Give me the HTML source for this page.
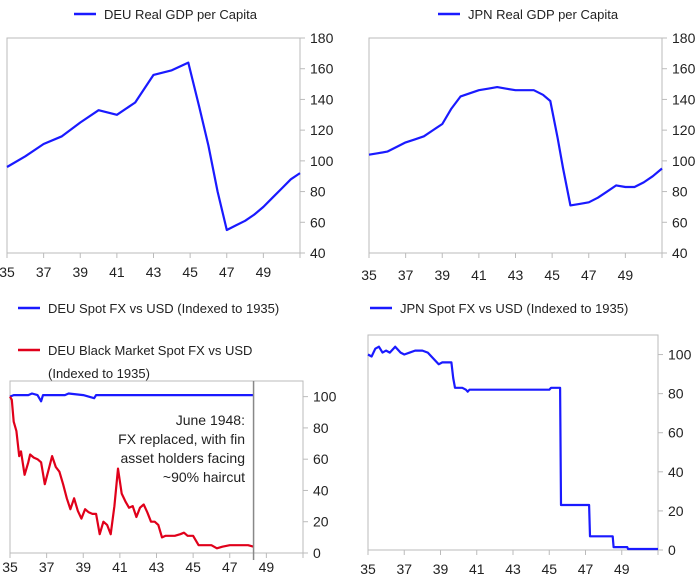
<!DOCTYPE html>
<html><head><meta charset="utf-8"><style>
body{margin:0;background:#fff;font-family:"Liberation Sans",sans-serif;}
svg text{font-family:"Liberation Sans",sans-serif;fill:#222;}
</style></head><body>
<svg id="s" width="700" height="582" xmlns="http://www.w3.org/2000/svg"></svg>
<script>
const deuGdpYears=[35,36,37,38,39,40,41,42,43,44,44.9,45.5,46,46.5,47,47.5,48,48.5,49,49.5,50,50.5,51];
const deuGdp=[96,103,111,116,125,133,130,138,156,159,164,135,110,80,55,58,61,65,70,76,82,88,92];
const jpnGdpYears=[35,35.5,36,36.5,37,37.5,38,38.5,39,39.5,40,40.5,41,41.5,42,42.5,43,43.5,44,44.5,44.9,45.3,45.6,46,46.5,47,47.5,48,48.5,49,49.5,50,50.5,51];
const jpnGdp=[104,105,106,109,112,114,116,120,124,134,142,144,146,147,148,147,146,146,146,143,139,115,95,71,72,73,76,80,84,83,83,86,90,95];
const deuFxYears=[35,35.2,35.5,36,36.2,36.5,36.7,36.8,37,38,38.2,39,39.6,39.7,40,48.3];
const deuFx=[100,101,101,101,102,101,97,101,101,101,102,101,99,101,101,101];
const deuBmYears=[35,35.1,35.2,35.35,35.5,35.6,35.8,36,36.1,36.3,36.5,36.7,36.9,37.1,37.3,37.5,37.7,37.9,38.1,38.3,38.5,38.7,38.9,39.1,39.3,39.5,39.7,39.9,40.1,40.3,40.5,40.7,40.9,41.1,41.3,41.5,41.7,41.9,42.1,42.3,42.5,42.7,42.9,43.1,43.3,43.5,43.7,44,44.3,44.5,44.7,45,45.3,45.6,46,46.3,46.6,47,47.3,47.6,48,48.3];
const deuBm=[100,98,84,78,62,65,50,58,63,61,60,58,44,53,62,55,52,44,35,28,35,27,22,28,26,25,25,12,20,18,12,30,54,38,33,29,30,23,29,31,26,20,20,18,10,11,11,11,12,13,11,11,5,5,5,3,4,5,5,5,5,4];
const jpnFxYears=[35,35.2,35.4,35.6,35.8,36,36.2,36.5,36.8,37,37.3,37.6,38,38.3,38.6,38.9,39.1,39.6,39.7,39.8,40,40.2,40.4,40.5,40.6,45,45.1,45.6,45.65,47.2,47.25,48.5,48.55,49.3,49.35,51];
const jpnFx=[100,99,103,104,101,102,101,104,101,100,101,102,102,101,98,95,96,96,88,83,83,83,82,81,82,82,83,83,23,23,7,7,1.5,1.5,0.5,0.5];

const svg=document.getElementById('s');
const NS='http://www.w3.org/2000/svg';
function el(t,a,p){const e=document.createElementNS(NS,t);for(const k in a)e.setAttribute(k,a[k]);(p||svg).appendChild(e);return e;}

function chart(name,x0,x1,y0,y1,ymin,ymax,yticks,xlabY,series){
  const g=el('g',{});
  
  
  const sx=v=>x0+(v-35)/(51-35)*(x1-x0);
  const sy=v=>y1-(v-ymin)/(ymax-ymin)*(y1-y0);
  const box=el('rect',{x:x0,y:y0,width:x1-x0,height:y1-y0,fill:'none',stroke:'#bbb','stroke-width':1},g);
  
  
  for(const t of yticks){
    el('line',{x1:x1,x2:x1+5,y1:sy(t),y2:sy(t),stroke:'#bbb'},g);
    const tx=el('text',{x:x1+10,y:sy(t)+5,'font-size':14},g);tx.textContent=t;
    
    
  }
  for(let yr=35;yr<=51;yr+=2){
    el('line',{x1:sx(yr),x2:sx(yr),y1:y1,y2:y1+5,stroke:'#bbb'},g);
  }
  el('line',{x1:x1,x2:x1,y1:y1,y2:y1+5,stroke:'#bbb'},g);
  for(let yr=35;yr<=49;yr+=2){
    const tx=el('text',{x:sx(yr),y:xlabY,'font-size':14,'text-anchor':'middle'},g);tx.textContent=yr;
    
    
  }
  for(const s of series){
    const d=s.xs.map((v,i)=>(i?'L':'M')+sx(v).toFixed(1)+','+sy(s.ys[i]).toFixed(1)).join('');
    const p=el('path',{d:d,fill:'none',stroke:s.c,'stroke-width':2.2,'stroke-linejoin':'round'},g);
    
    
  }
  return {g,sx,sy};
}
function legend(name,x,y,c,lines){
  const l=el('line',{x1:x,x2:x+22,y1:y,y2:y,stroke:c,'stroke-width':2.5});
  
  
  lines.forEach((t,i)=>{const tx=el('text',{x:x+30,y:y+5+i*23,'font-size':13});tx.textContent=t;
    
    });
}
legend('legend-deu-gdp',74,14,'#1a1aff',['DEU Real GDP per Capita']);
legend('legend-jpn-gdp',438,14,'#1a1aff',['JPN Real GDP per Capita']);
legend('legend-deu-fx',18,308,'#1a1aff',['DEU Spot FX vs USD (Indexed to 1935)']);
legend('legend-deu-black-market',18,350,'#e0001a',['DEU Black Market Spot FX vs USD','(Indexed to 1935)']);
legend('legend-jpn-fx',370,308,'#1a1aff',['JPN Spot FX vs USD (Indexed to 1935)']);

chart('deu-gdp-chart',7,300,38,253,40,180,[180,160,140,120,100,80,60,40],277,[{xs:deuGdpYears,ys:deuGdp,c:'#1a1aff',n:'deu-gdp-line'}]);
chart('jpn-gdp-chart',369,662,38,253,40,180,[180,160,140,120,100,80,60,40],280,[{xs:jpnGdpYears,ys:jpnGdp,c:'#1a1aff',n:'jpn-gdp-line'}]);
const c3=chart('deu-fx-chart',10,303,381,553,0,110,[100,80,60,40,20,0],572,[{xs:deuFxYears,ys:deuFx,c:'#1a1aff',n:'deu-fx-line'},{xs:deuBmYears,ys:deuBm,c:'#e0001a',n:'deu-black-market-line'}]);
const vl=el('line',{x1:c3.sx(48.3),x2:c3.sx(48.3),y1:381,y2:560,stroke:'#888','stroke-width':1.5});


['June 1948:','FX  replaced, with fin','asset holders facing','~90% haircut'].forEach((t,i)=>{
  const tx=el('text',{x:245,y:425+i*19,'font-size':14,'text-anchor':'end'});tx.textContent=t;
  
  
});
chart('jpn-fx-chart',368,658,335,550,0,110,[100,80,60,40,20,0],574,[{xs:jpnFxYears,ys:jpnFx,c:'#1a1aff',n:'jpn-fx-line'}]);
</script>
</body></html>
